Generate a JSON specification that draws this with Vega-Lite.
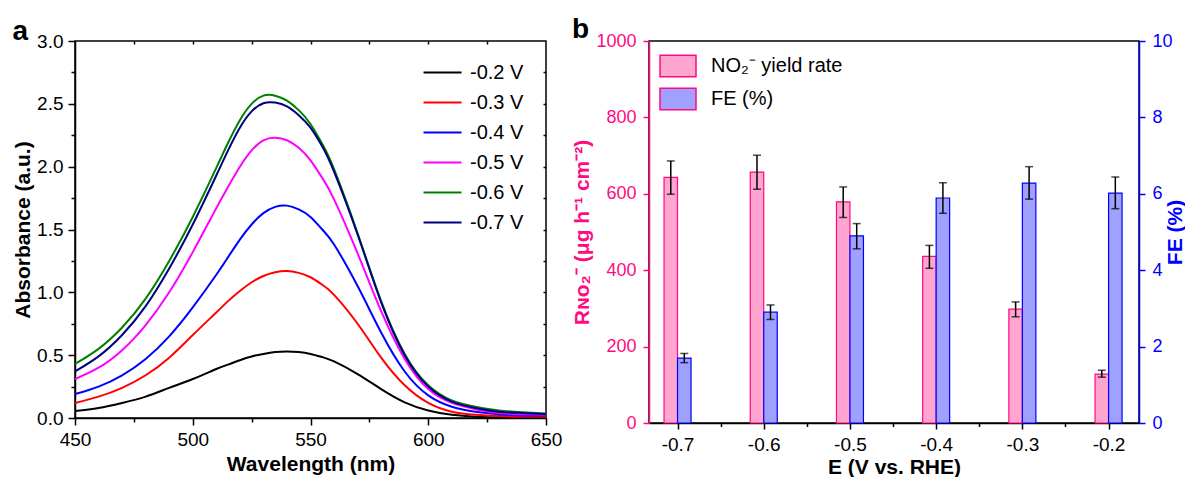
{
"$schema": "https://vega.github.io/schema/vega-lite/v6.json",
"padding": {"left": 11, "top": 15, "right": 0, "bottom": 0},
"spacing": 8,
"config": {
  "font": "Liberation Sans",
  "view": {"stroke": "black", "strokeWidth": 1.5},
  "axis": {"labelFontSize": 19, "labelColor": "black", "titleFontSize": 21, "titleFontWeight": "bold", "titleColor": "black", "tickColor": "black", "domainColor": "black", "domainWidth": 1.5, "tickWidth": 1.5, "grid": false, "labelFont": "Liberation Sans", "titleFont": "Liberation Sans", "labelFlush": false, "labelOverlap": false},
  "legend": {"labelFontSize": 20, "labelFont": "Liberation Sans", "labelColor": "black"},
  "title": {"fontSize": 28, "fontWeight": "bold", "font": "Liberation Sans", "color": "black"}
},
"hconcat": [
{
  "width": 471, "height": 377,
  "title": {"text": "a", "anchor": "start", "frame": "bounds", "offset": -13.5, "dx": 0},
  "data": {"values": [
    {"w":450,"a":0.055,"s":"-0.2 V"},{"w":460,"a":0.08,"s":"-0.2 V"},{"w":470,"a":0.12,"s":"-0.2 V"},{"w":480,"a":0.17,"s":"-0.2 V"},{"w":490,"a":0.24,"s":"-0.2 V"},{"w":500,"a":0.31,"s":"-0.2 V"},{"w":510,"a":0.39,"s":"-0.2 V"},{"w":515,"a":0.425,"s":"-0.2 V"},{"w":520,"a":0.46,"s":"-0.2 V"},{"w":525,"a":0.49,"s":"-0.2 V"},{"w":530,"a":0.51,"s":"-0.2 V"},{"w":535,"a":0.525,"s":"-0.2 V"},{"w":540,"a":0.53,"s":"-0.2 V"},{"w":545,"a":0.525,"s":"-0.2 V"},{"w":550,"a":0.51,"s":"-0.2 V"},{"w":555,"a":0.485,"s":"-0.2 V"},{"w":560,"a":0.45,"s":"-0.2 V"},{"w":570,"a":0.35,"s":"-0.2 V"},{"w":580,"a":0.23,"s":"-0.2 V"},{"w":590,"a":0.125,"s":"-0.2 V"},{"w":600,"a":0.06,"s":"-0.2 V"},{"w":610,"a":0.025,"s":"-0.2 V"},{"w":620,"a":0.01,"s":"-0.2 V"},{"w":630,"a":0.005,"s":"-0.2 V"},{"w":640,"a":0.003,"s":"-0.2 V"},{"w":650,"a":0.002,"s":"-0.2 V"},
    {"w":450,"a":0.12,"s":"-0.3 V"},{"w":460,"a":0.17,"s":"-0.3 V"},{"w":470,"a":0.24,"s":"-0.3 V"},{"w":480,"a":0.34,"s":"-0.3 V"},{"w":490,"a":0.48,"s":"-0.3 V"},{"w":500,"a":0.66,"s":"-0.3 V"},{"w":510,"a":0.84,"s":"-0.3 V"},{"w":515,"a":0.93,"s":"-0.3 V"},{"w":520,"a":1.01,"s":"-0.3 V"},{"w":525,"a":1.08,"s":"-0.3 V"},{"w":530,"a":1.13,"s":"-0.3 V"},{"w":535,"a":1.16,"s":"-0.3 V"},{"w":540,"a":1.17,"s":"-0.3 V"},{"w":545,"a":1.155,"s":"-0.3 V"},{"w":550,"a":1.12,"s":"-0.3 V"},{"w":555,"a":1.06,"s":"-0.3 V"},{"w":560,"a":0.98,"s":"-0.3 V"},{"w":570,"a":0.75,"s":"-0.3 V"},{"w":580,"a":0.48,"s":"-0.3 V"},{"w":590,"a":0.26,"s":"-0.3 V"},{"w":600,"a":0.12,"s":"-0.3 V"},{"w":610,"a":0.05,"s":"-0.3 V"},{"w":620,"a":0.025,"s":"-0.3 V"},{"w":630,"a":0.015,"s":"-0.3 V"},{"w":640,"a":0.01,"s":"-0.3 V"},{"w":650,"a":0.01,"s":"-0.3 V"},
    {"w":450,"a":0.19,"s":"-0.4 V"},{"w":460,"a":0.25,"s":"-0.4 V"},{"w":470,"a":0.34,"s":"-0.4 V"},{"w":480,"a":0.47,"s":"-0.4 V"},{"w":490,"a":0.65,"s":"-0.4 V"},{"w":500,"a":0.88,"s":"-0.4 V"},{"w":510,"a":1.14,"s":"-0.4 V"},{"w":515,"a":1.28,"s":"-0.4 V"},{"w":520,"a":1.42,"s":"-0.4 V"},{"w":525,"a":1.54,"s":"-0.4 V"},{"w":530,"a":1.63,"s":"-0.4 V"},{"w":535,"a":1.68,"s":"-0.4 V"},{"w":540,"a":1.69,"s":"-0.4 V"},{"w":545,"a":1.66,"s":"-0.4 V"},{"w":550,"a":1.60,"s":"-0.4 V"},{"w":555,"a":1.50,"s":"-0.4 V"},{"w":560,"a":1.38,"s":"-0.4 V"},{"w":570,"a":1.05,"s":"-0.4 V"},{"w":580,"a":0.68,"s":"-0.4 V"},{"w":590,"a":0.37,"s":"-0.4 V"},{"w":600,"a":0.18,"s":"-0.4 V"},{"w":610,"a":0.09,"s":"-0.4 V"},{"w":620,"a":0.05,"s":"-0.4 V"},{"w":630,"a":0.03,"s":"-0.4 V"},{"w":640,"a":0.02,"s":"-0.4 V"},{"w":650,"a":0.02,"s":"-0.4 V"},
    {"w":450,"a":0.31,"s":"-0.5 V"},{"w":460,"a":0.40,"s":"-0.5 V"},{"w":470,"a":0.54,"s":"-0.5 V"},{"w":480,"a":0.74,"s":"-0.5 V"},{"w":490,"a":1.00,"s":"-0.5 V"},{"w":500,"a":1.32,"s":"-0.5 V"},{"w":510,"a":1.67,"s":"-0.5 V"},{"w":515,"a":1.84,"s":"-0.5 V"},{"w":520,"a":2.00,"s":"-0.5 V"},{"w":525,"a":2.13,"s":"-0.5 V"},{"w":530,"a":2.21,"s":"-0.5 V"},{"w":535,"a":2.23,"s":"-0.5 V"},{"w":540,"a":2.21,"s":"-0.5 V"},{"w":545,"a":2.15,"s":"-0.5 V"},{"w":550,"a":2.05,"s":"-0.5 V"},{"w":555,"a":1.91,"s":"-0.5 V"},{"w":560,"a":1.74,"s":"-0.5 V"},{"w":570,"a":1.31,"s":"-0.5 V"},{"w":580,"a":0.85,"s":"-0.5 V"},{"w":590,"a":0.47,"s":"-0.5 V"},{"w":600,"a":0.23,"s":"-0.5 V"},{"w":610,"a":0.12,"s":"-0.5 V"},{"w":620,"a":0.07,"s":"-0.5 V"},{"w":630,"a":0.04,"s":"-0.5 V"},{"w":640,"a":0.03,"s":"-0.5 V"},{"w":650,"a":0.025,"s":"-0.5 V"},
    {"w":450,"a":0.43,"s":"-0.6 V"},{"w":460,"a":0.55,"s":"-0.6 V"},{"w":470,"a":0.72,"s":"-0.6 V"},{"w":480,"a":0.95,"s":"-0.6 V"},{"w":490,"a":1.25,"s":"-0.6 V"},{"w":500,"a":1.60,"s":"-0.6 V"},{"w":510,"a":1.99,"s":"-0.6 V"},{"w":515,"a":2.19,"s":"-0.6 V"},{"w":520,"a":2.37,"s":"-0.6 V"},{"w":525,"a":2.50,"s":"-0.6 V"},{"w":530,"a":2.565,"s":"-0.6 V"},{"w":535,"a":2.565,"s":"-0.6 V"},{"w":540,"a":2.525,"s":"-0.6 V"},{"w":545,"a":2.45,"s":"-0.6 V"},{"w":550,"a":2.34,"s":"-0.6 V"},{"w":555,"a":2.18,"s":"-0.6 V"},{"w":560,"a":1.98,"s":"-0.6 V"},{"w":570,"a":1.47,"s":"-0.6 V"},{"w":580,"a":0.93,"s":"-0.6 V"},{"w":590,"a":0.51,"s":"-0.6 V"},{"w":600,"a":0.26,"s":"-0.6 V"},{"w":610,"a":0.14,"s":"-0.6 V"},{"w":620,"a":0.09,"s":"-0.6 V"},{"w":630,"a":0.06,"s":"-0.6 V"},{"w":640,"a":0.045,"s":"-0.6 V"},{"w":650,"a":0.035,"s":"-0.6 V"},
    {"w":450,"a":0.37,"s":"-0.7 V"},{"w":460,"a":0.49,"s":"-0.7 V"},{"w":470,"a":0.66,"s":"-0.7 V"},{"w":480,"a":0.89,"s":"-0.7 V"},{"w":490,"a":1.19,"s":"-0.7 V"},{"w":500,"a":1.54,"s":"-0.7 V"},{"w":510,"a":1.93,"s":"-0.7 V"},{"w":515,"a":2.13,"s":"-0.7 V"},{"w":520,"a":2.31,"s":"-0.7 V"},{"w":525,"a":2.44,"s":"-0.7 V"},{"w":530,"a":2.505,"s":"-0.7 V"},{"w":535,"a":2.51,"s":"-0.7 V"},{"w":540,"a":2.48,"s":"-0.7 V"},{"w":545,"a":2.41,"s":"-0.7 V"},{"w":550,"a":2.31,"s":"-0.7 V"},{"w":555,"a":2.16,"s":"-0.7 V"},{"w":560,"a":1.96,"s":"-0.7 V"},{"w":570,"a":1.46,"s":"-0.7 V"},{"w":580,"a":0.92,"s":"-0.7 V"},{"w":590,"a":0.50,"s":"-0.7 V"},{"w":600,"a":0.25,"s":"-0.7 V"},{"w":610,"a":0.13,"s":"-0.7 V"},{"w":620,"a":0.08,"s":"-0.7 V"},{"w":630,"a":0.05,"s":"-0.7 V"},{"w":640,"a":0.04,"s":"-0.7 V"},{"w":650,"a":0.03,"s":"-0.7 V"}
  ]},
  "layer": [
    {"mark": {"type": "line", "strokeWidth": 2, "interpolate": "natural", "clip": true},
     "encoding": {
      "x": {"field": "w", "type": "quantitative", "scale": {"domain": [450, 650], "nice": false, "zero": false},
            "axis": {"orient": "bottom", "values": [450, 475, 500, 525, 550, 575, 600, 625, 650], "labelExpr": "datum.value % 50 === 0 ? datum.label : ''", "tickSize": {"condition": {"test": "datum.value % 50 === 0", "value": 7}, "value": 4}, "labelPadding": 5, "title": "Wavelength (nm)", "titlePadding": 4}},
      "y": {"field": "a", "type": "quantitative", "scale": {"domain": [0, 3], "nice": false},
            "axis": {"orient": "left", "values": [0, 0.25, 0.5, 0.75, 1, 1.25, 1.5, 1.75, 2, 2.25, 2.5, 2.75, 3], "format": ".1f", "labelExpr": "round(datum.value * 4) % 2 === 0 ? datum.label : ''", "tickSize": {"condition": {"test": "round(datum.value * 4) % 2 === 0", "value": 7}, "value": 4}, "labelPadding": 5, "title": "Absorbance (a.u.)", "titlePadding": 3}},
      "color": {"field": "s", "type": "nominal",
                "scale": {"domain": ["-0.2 V", "-0.3 V", "-0.4 V", "-0.5 V", "-0.6 V", "-0.7 V"], "range": ["#000000", "#ff0000", "#0000ff", "#ff00ff", "#008000", "#000080"]},
                "legend": {"orient": "none", "legendX": 357, "legendY": 21, "title": null, "symbolType": "M-2,0H2", "symbolSize": 361, "symbolStrokeWidth": 2, "labelOffset": 17, "rowPadding": 9, "labelFontSize": 20}}
     }},
    {"mark": {"type": "line", "opacity": 0, "strokeOpacity": 0},
     "encoding": {
      "x": {"field": "w", "type": "quantitative", "axis": {"orient": "top", "values": [475, 500, 525, 550, 575, 600, 625], "labels": false, "tickSize": -3, "domain": false, "title": null}},
      "y": {"field": "a", "type": "quantitative", "axis": {"orient": "right", "values": [0.25, 0.5, 0.75, 1, 1.25, 1.5, 1.75, 2, 2.25, 2.5, 2.75], "labels": false, "tickSize": -3, "domain": false, "title": null}},
      "detail": {"field": "s"}
     }}
  ],
  "resolve": {"axis": {"x": "independent", "y": "independent"}}
},
{
  "width": 490, "height": 382,
  "title": {"text": "b", "anchor": "start", "frame": "bounds", "offset": -12, "dx": 0},
  "data": {"values": [
    {"E": -0.7, "rate": 643, "rate_lo": 599, "rate_hi": 686, "fe": 1.70, "fe_lo": 1.58, "fe_hi": 1.82},
    {"E": -0.6, "rate": 657, "rate_lo": 612, "rate_hi": 701, "fe": 2.90, "fe_lo": 2.71, "fe_hi": 3.09},
    {"E": -0.5, "rate": 579, "rate_lo": 538, "rate_hi": 618, "fe": 4.90, "fe_lo": 4.56, "fe_hi": 5.22},
    {"E": -0.4, "rate": 436, "rate_lo": 405, "rate_hi": 465, "fe": 5.89, "fe_lo": 5.49, "fe_hi": 6.29},
    {"E": -0.3, "rate": 298, "rate_lo": 278, "rate_hi": 317, "fe": 6.28, "fe_lo": 5.86, "fe_hi": 6.71},
    {"E": -0.2, "rate": 128, "rate_lo": 120, "rate_hi": 138, "fe": 6.02, "fe_lo": 5.61, "fe_hi": 6.44}
  ]},
  "layer": [
    {"layer": [
      {"mark": {"type": "bar", "width": 13.5, "xOffset": -6.75, "stroke": "#ff0a80", "strokeWidth": 1.2},
       "encoding": {
         "x": {"field": "E", "type": "quantitative", "scale": {"domain": [-0.7273, -0.1705], "nice": false, "zero": false},
               "axis": {"values": [-0.7, -0.65, -0.6, -0.55, -0.5, -0.45, -0.4, -0.35, -0.3, -0.25, -0.2], "format": ".1f",
                        "labelExpr": "abs(round(datum.value * 20)) % 2 === 0 ? replace(datum.label, '\u2212', '-') : ''",
                        "tickSize": {"condition": {"test": "abs(round(datum.value * 20)) % 2 === 0", "value": 6}, "value": 3.5},
                        "labelPadding": 6, "title": "E (V vs. RHE)", "titlePadding": 2}},
         "y": {"field": "rate", "type": "quantitative", "scale": {"domain": [0, 1000], "nice": false},
               "axis": {"orient": "left", "values": [0, 100, 200, 300, 400, 500, 600, 700, 800, 900, 1000],
                        "labelExpr": "datum.value % 200 === 0 ? datum.label : ''",
                        "tickSize": {"condition": {"test": "datum.value % 200 === 0", "value": 6}, "value": 3.5},
                        "format": "d", "labelFontSize": 18, "labelPadding": 7, "labelColor": "#ff0a80", "tickColor": "#ff0a80", "domainColor": "#ff0a80", "titleColor": "#ff0a80",
                        "title": "R\u0274\u1d0f\u2082\u207b (\u03bcg h\u207b\u00b9 cm\u207b\u00b2)", "titlePadding": 3}},
         "fill": {"datum": "NO\u2082\u207b yield rate", "type": "nominal",
                  "scale": {"domain": ["NO\u2082\u207b yield rate", "FE (%)"], "range": ["#ffa6d0", "#a0a0ff"]},
                  "legend": {"orient": "none", "legendX": 584, "legendY": 6, "title": null, "symbolType": "M-1,-0.6H1V0.6H-1Z", "symbolSize": 1296, "symbolOpacity": 1, "rowPadding": 0, "labelOffset": 14, "labelFontSize": 20,
                             "encode": {"symbols": {"update": {"stroke": {"signal": "datum.value === 'FE (%)' ? '#0000ff' : '#ff0a80'"}, "strokeWidth": {"value": 1.5}}}}}}
       }},
      {"mark": {"type": "rule", "xOffset": -6.75, "color": "black", "strokeWidth": 1.5},
       "encoding": {"x": {"field": "E", "type": "quantitative"}, "y": {"field": "rate_lo", "type": "quantitative"}, "y2": {"field": "rate_hi"}}},
      {"mark": {"type": "tick", "orient": "horizontal", "xOffset": -6.75, "color": "black", "size": 8, "thickness": 1.5},
       "encoding": {"x": {"field": "E", "type": "quantitative"}, "y": {"field": "rate_lo", "type": "quantitative"}}},
      {"mark": {"type": "tick", "orient": "horizontal", "xOffset": -6.75, "color": "black", "size": 8, "thickness": 1.5},
       "encoding": {"x": {"field": "E", "type": "quantitative"}, "y": {"field": "rate_hi", "type": "quantitative"}}}
    ]},
    {"layer": [
      {"mark": {"type": "bar", "width": 13.5, "xOffset": 6.75, "stroke": "#0000ff", "strokeWidth": 1.2},
       "encoding": {
         "x": {"field": "E", "type": "quantitative"},
         "y": {"field": "fe", "type": "quantitative", "scale": {"domain": [0, 10], "nice": false},
               "axis": {"orient": "right", "values": [0, 1, 2, 3, 4, 5, 6, 7, 8, 9, 10],
                        "labelExpr": "datum.value % 2 === 0 ? datum.label : ''",
                        "tickSize": {"condition": {"test": "datum.value % 2 === 0", "value": 6}, "value": 3.5},
                        "labelFontSize": 18, "labelPadding": 7, "labelColor": "#0000ff", "tickColor": "#0000ff", "domainColor": "#0000ff", "titleColor": "#0000ff",
                        "title": "FE (%)", "titleAngle": 270, "titleBaseline": "top", "titlePadding": -8}},
         "fill": {"datum": "FE (%)", "type": "nominal"}
       }},
      {"mark": {"type": "rule", "xOffset": 6.75, "color": "black", "strokeWidth": 1.5},
       "encoding": {"x": {"field": "E", "type": "quantitative"}, "y": {"field": "fe_lo", "type": "quantitative"}, "y2": {"field": "fe_hi"}}},
      {"mark": {"type": "tick", "orient": "horizontal", "xOffset": 6.75, "color": "black", "size": 8, "thickness": 1.5},
       "encoding": {"x": {"field": "E", "type": "quantitative"}, "y": {"field": "fe_lo", "type": "quantitative"}}},
      {"mark": {"type": "tick", "orient": "horizontal", "xOffset": 6.75, "color": "black", "size": 8, "thickness": 1.5},
       "encoding": {"x": {"field": "E", "type": "quantitative"}, "y": {"field": "fe_hi", "type": "quantitative"}}}
    ]}
  ],
  "resolve": {"scale": {"y": "independent"}}
}
]
}
